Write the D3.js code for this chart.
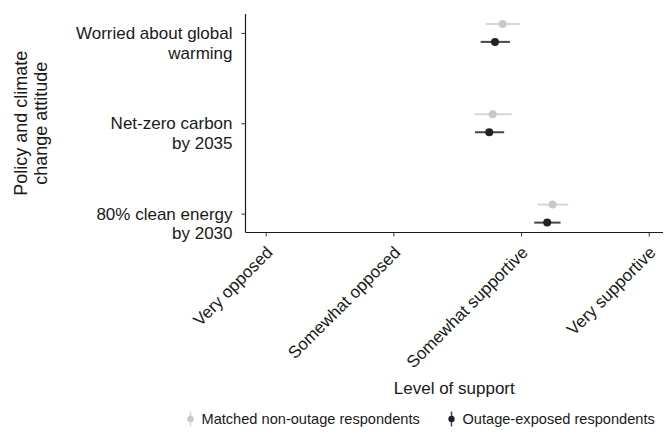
<!DOCTYPE html>
<html>
<head>
<meta charset="utf-8">
<script src="https://cdn.jsdelivr.net/npm/d3@7"></script>
<style>
  html, body { margin: 0; padding: 0; background: #fff; }
  svg { display: block; font-family: "Liberation Sans", Arial, Helvetica, sans-serif; }
</style>
</head>
<body>
<svg id="chart" width="664" height="436"></svg>
<script>
// Attitudes (top to bottom) and their wrapped labels
const categories = ["worried", "netzero", "clean80"];
const categoryLabels = [
  ["Worried about global", "warming"],
  ["Net-zero carbon", "by 2035"],
  ["80% clean energy", "by 2030"]
];

// Support scale (1–4)
const supportValues = [1, 2, 3, 4];
const supportLabels = ["Very opposed", "Somewhat opposed", "Somewhat supportive", "Very supportive"];

// Mean level of support with 95% interval
const matchedMean = [2.856, 2.778, 3.247];
const matchedLow  = [2.723, 2.637, 3.130];
const matchedHigh = [2.991, 2.926, 3.370];

const exposedMean = [2.796, 2.751, 3.205];
const exposedLow  = [2.684, 2.639, 3.103];
const exposedHigh = [2.913, 2.868, 3.310];

const groupNames = ["Matched non-outage respondents", "Outage-exposed respondents"];

const svg = d3.select("#chart");

const plot = { left: 245.5, right: 663, top: 14, bottom: 232.5 };
const fontSize = 17;

const x = d3.scaleLinear().domain([0.842, 4.112]).range([plot.left, plot.right]);
const y = d3.scalePoint().domain(categories).range([plot.top, plot.bottom]).padding(0.209);

const groups = [
  { name: groupNames[0], mean: matchedMean, low: matchedLow, high: matchedHigh,
    dot: "#c9c9c9", bar: "#d6d6d6", offset: -9 },
  { name: groupNames[1], mean: exposedMean, low: exposedLow, high: exposedHigh,
    dot: "#222222", bar: "#464646", offset: 9 }
];

// Axes
const yAxis = d3.axisLeft(y).tickSize(4).tickSizeOuter(0).tickFormat("");
const yG = svg.append("g").attr("transform", `translate(${plot.left},0)`).call(yAxis);

const xAxis = d3.axisBottom(x).tickValues(supportValues).tickSize(4).tickSizeOuter(0).tickFormat("");
const xG = svg.append("g").attr("transform", `translate(0,${plot.bottom})`).call(xAxis);

[yG, xG].forEach(g => {
  g.select(".domain").attr("stroke", "#1a1a1a").attr("stroke-width", 1.2);
  g.selectAll(".tick line").attr("stroke", "#333").attr("stroke-width", 1);
});
// extend the domain lines so they meet at the corner
yG.select(".domain").attr("d", `M0,${plot.top}V${plot.bottom}`);
xG.select(".domain").attr("d", `M${plot.left},0H${plot.right}`);

// Category labels (two lines, first line level with the tick)
const catText = svg.append("g")
  .selectAll("text")
  .data(categories)
  .join("text")
  .attr("text-anchor", "end")
  .attr("font-size", fontSize)
  .attr("fill", "#1a1a1a")
  .attr("transform", d => `translate(${plot.left - 13},${y(d)})`);
catText.each(function(d, i) {
  const t = d3.select(this);
  categoryLabels[i].forEach((line, j) => {
    t.append("tspan").attr("x", 0).attr("y", 0).attr("dy", (0.35 + j * 1.17) + "em").text(line);
  });
});

// Support labels, rotated
svg.append("g")
  .selectAll("text")
  .data(supportValues)
  .join("text")
  .attr("text-anchor", "end")
  .attr("font-size", fontSize)
  .attr("fill", "#1a1a1a")
  .attr("transform", d => `translate(${x(d) + 8},${plot.bottom + 21}) rotate(-45)`)
  .text((d, i) => supportLabels[i]);

// Axis titles
svg.append("text")
  .attr("x", (plot.left + plot.right) / 2)
  .attr("y", 394)
  .attr("text-anchor", "middle")
  .attr("font-size", fontSize)
  .attr("fill", "#1a1a1a")
  .text("Level of support");

const yTitle = svg.append("text")
  .attr("text-anchor", "middle")
  .attr("font-size", 18)
  .attr("fill", "#1a1a1a")
  .attr("transform", `translate(27,${(plot.top + plot.bottom) / 2}) rotate(-90)`);
["Policy and climate", "change attitude"].forEach((line, j) => {
  yTitle.append("tspan").attr("x", 0).attr("y", 0).attr("dy", (j * 1.12) + "em").text(line);
});

// Point ranges
const marks = svg.append("g");
groups.forEach(g => {
  const gg = marks.append("g");
  gg.selectAll("line")
    .data(categories)
    .join("line")
    .attr("x1", (d, i) => x(g.low[i]))
    .attr("x2", (d, i) => x(g.high[i]))
    .attr("y1", d => y(d) + g.offset)
    .attr("y2", d => y(d) + g.offset)
    .attr("stroke", g.bar)
    .attr("stroke-width", 2);
  gg.selectAll("circle")
    .data(categories)
    .join("circle")
    .attr("cx", (d, i) => x(g.mean[i]))
    .attr("cy", d => y(d) + g.offset)
    .attr("r", 4)
    .attr("fill", g.dot);
});

// Legend
const legend = svg.append("g").attr("transform", "translate(0,419)");
const legendX = [190.5, 451.5];
groups.forEach((g, i) => {
  const item = legend.append("g").attr("transform", `translate(${legendX[i]},0)`);
  item.append("line").attr("x1", 0).attr("x2", 0).attr("y1", -7.5).attr("y2", 7.5)
    .attr("stroke", g.bar).attr("stroke-width", 1.5);
  item.append("circle").attr("r", 3.2).attr("fill", g.dot);
  item.append("text").attr("x", 11).attr("dy", "0.35em")
    .attr("font-size", 14.6).attr("fill", "#1a1a1a").text(g.name);
});
</script>
</body>
</html>
